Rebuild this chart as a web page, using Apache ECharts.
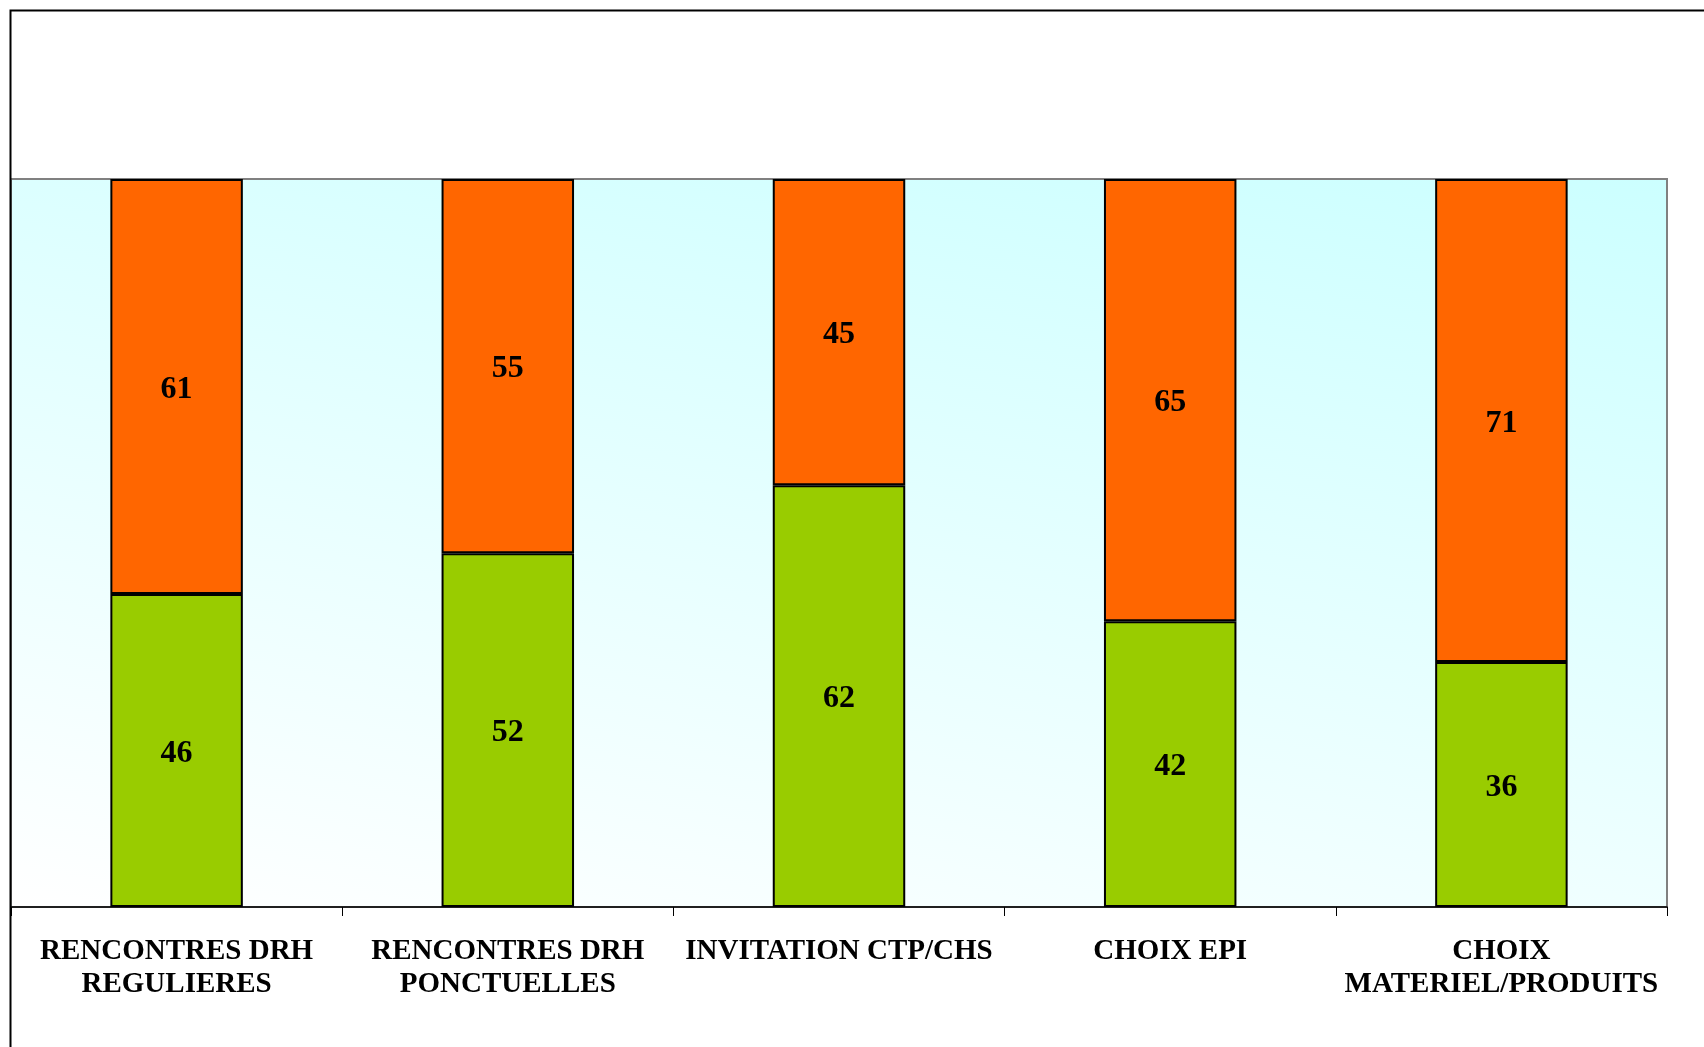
<!DOCTYPE html>
<html>
<head>
<meta charset="utf-8">
<style>
html,body{margin:0;padding:0;background:#fff;}
#chart{width:1704px;height:1047px;}
</style>
<script src="https://cdn.jsdelivr.net/npm/echarts@6/dist/echarts.min.js"></script>
</head>
<body>
<div id="chart"></div>
<script>
const categories = [
  'RENCONTRES DRH\nREGULIERES',
  'RENCONTRES DRH\nPONCTUELLES',
  'INVITATION CTP/CHS',
  'CHOIX EPI',
  'CHOIX\nMATERIEL/PRODUITS'
];
const greenValues = [46, 52, 62, 42, 36];
const orangeValues = [61, 55, 45, 65, 71];

const totals = greenValues.map((v, i) => v + orangeValues[i]);
const greenPct = greenValues.map((v, i) => ({ value: v / totals[i] * 100, raw: v }));
const orangePct = orangeValues.map((v, i) => ({ value: v / totals[i] * 100, raw: v }));

const chart = echarts.init(document.getElementById('chart'), null, { renderer: 'canvas' });

const labelCfg = {
  show: true,
  position: 'inside',
  offset: [0, 3],
  color: '#000',
  fontFamily: '"Liberation Serif", "Times New Roman", serif',
  fontWeight: 'bold',
  fontSize: 32,
  formatter: p => p.data.raw
};

chart.setOption({
  animation: false,
  backgroundColor: '#ffffff',
  grid: {
    left: 11, right: 37, top: 179, bottom: 140,
    show: true,
    borderColor: '#808080',
    borderWidth: 2,
    backgroundColor: new echarts.graphic.LinearGradient(11, 907, 215, -111, [
      { offset: 0, color: '#ffffff' },
      { offset: 1, color: '#ccffff' }
    ], true)
  },
  xAxis: {
    type: 'category',
    data: categories,
    boundaryGap: true,
    axisLine: { show: true, lineStyle: { color: '#000', width: 1.5 } },
    axisTick: { show: true, alignWithLabel: false, length: 9, lineStyle: { color: '#000', width: 1 } },
    axisLabel: {
      interval: 0,
      margin: 28,
      color: '#000',
      fontFamily: '"Liberation Serif", "Times New Roman", serif',
      fontWeight: 'bold',
      fontSize: 29,
      lineHeight: 33,
      verticalAlign: 'top'
    },
    z: 10
  },
  yAxis: {
    type: 'value',
    min: 0,
    max: 100,
    show: false,
    splitLine: { show: false }
  },
  series: [
    {
      name: 'green',
      type: 'bar',
      stack: 'total',
      data: greenPct,
      barCategoryGap: '60%',
      itemStyle: { color: '#99cc00', borderColor: '#000', borderWidth: 2 },
      label: labelCfg
    },
    {
      name: 'orange',
      type: 'bar',
      stack: 'total',
      data: orangePct,
      barCategoryGap: '60%',
      itemStyle: { color: '#ff6600', borderColor: '#000', borderWidth: 2 },
      label: labelCfg
    }
  ],
  graphic: [
    {
      type: 'rect',
      z: 100,
      silent: true,
      shape: { x: 10.5, y: 10.5, width: 1800, height: 1200 },
      style: { fill: null, stroke: '#000', lineWidth: 2 }
    }
  ]
});
</script>
</body>
</html>
